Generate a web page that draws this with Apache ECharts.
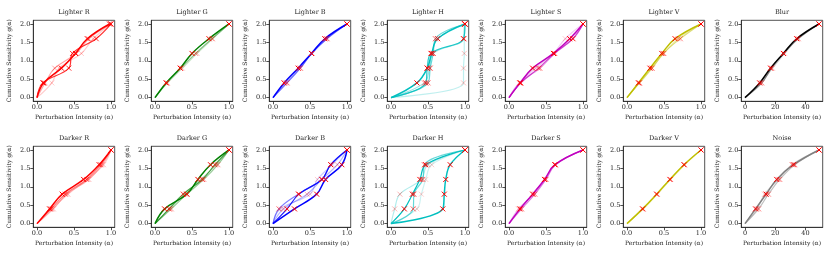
<!DOCTYPE html>
<html><head><meta charset="utf-8">
<script src="https://cdn.jsdelivr.net/npm/echarts@6/dist/echarts.min.js"></script>
<style>html,body{margin:0;padding:0;background:#fff}#c{width:830px;height:260px}</style>
</head><body><div id="c"></div>
<script>
// ---- data ----
const yLevels = [0, 0.4, 0.8, 1.2, 1.6, 2.0];
const unitTicks = [0, 0.5, 1.0];
const wideTicks = [0, 20, 40];
const yTicks = [0, 0.5, 1.0, 1.5, 2.0];
const titlesTop = ['Lighter R','Lighter G','Lighter B','Lighter H','Lighter S','Lighter V','Blur'];
const titlesBottom = ['Darker R','Darker G','Darker B','Darker H','Darker S','Darker V','Noise'];
const colorsTop = ['#ff0000','#008000','#0000ff','#00bfbf','#bf00bf','#bfbf00','#000000'];
const colorsBottom = ['#ff0000','#008000','#0000ff','#00bfbf','#bf00bf','#bfbf00','#808080'];

// x positions (alpha) of each run at the y levels above
const xLighterR = [[0,0.09,0.33,0.52,0.68,0.98],[0,0.08,0.43,0.48,0.80,1.0],[0,0.11,0.24,0.53,0.70,1.0],[0,0.20,0.30,0.60,0.76,1.0]];
const aLighterR = [1,0.8,0.35,0.2];
const xLighterG = [[0,0.15,0.34,0.50,0.73,1.0],[0,0.16,0.35,0.55,0.77,1.0],[0,0.17,0.37,0.57,0.78,1.0]];
const aLighterG = [1,0.45,0.2];
const xLighterB = [[0,0.15,0.34,0.52,0.70,1.0],[0,0.19,0.37,0.52,0.73,1.0],[0,0.17,0.36,0.53,0.72,1.0]];
const aLighterB = [1,0.55,0.3];
const xLighterH = [[0,0.35,0.49,0.55,0.63,1.0],[0,0.47,0.49,0.54,0.98,1.0],[0,0.50,0.53,0.57,0.60,1.0],[0,0.45,0.52,0.57,0.98,0.99],[0,0.98,0.98,0.99,0.99,1.0]];
const aLighterH = [1,0.85,0.6,0.4,0.25];
const xLighterS = [[0,0.15,0.32,0.60,0.82,1.0],[0,0.16,0.40,0.61,0.86,1.0],[0,0.14,0.42,0.62,0.87,1.0],[0,0.15,0.36,0.60,0.76,1.0]];
const aLighterS = [1,0.7,0.35,0.2];
const xLighterV = [[0,0.155,0.31,0.47,0.65,1.0],[0,0.17,0.34,0.49,0.72,1.0],[0,0.16,0.33,0.50,0.69,1.0]];
const aLighterV = [1,0.5,0.3];
const xBlur = [[0,9.7,16.9,25.4,34.2,49],[0,11.2,17.5,25.5,35.3,49],[0,10.5,18.2,26.3,34.8,49]];
const aBlur = [1,0.4,0.2];
const xDarkerR = [[0,0.17,0.34,0.63,0.84,1.0],[0,0.19,0.38,0.67,0.86,1.0],[0,0.22,0.40,0.70,0.88,1.0],[0,0.20,0.42,0.68,0.90,1.0]];
const aDarkerR = [1,0.5,0.3,0.2];
const xDarkerG = [[0,0.13,0.43,0.58,0.75,1.0],[0,0.19,0.38,0.64,0.81,1.0],[0,0.22,0.43,0.66,0.85,1.0],[0,0.20,0.40,0.62,0.83,1.0]];
const aDarkerG = [1,0.7,0.4,0.25];
const xDarkerB = [[0,0.29,0.59,0.71,0.93,1.0],[0,0.19,0.35,0.66,0.78,1.0],[0,0.08,0.34,0.66,0.78,1.0],[0,0.14,0.46,0.66,0.87,1.0],[0,0.10,0.50,0.60,0.80,1.0]];
const aDarkerB = [1,0.9,0.5,0.3,0.2];
const xDarkerH = [[0,0.70,0.72,0.74,0.80,1.0],[0,0.18,0.29,0.39,0.47,1.0],[0,0.30,0.31,0.43,0.45,1.0],[0,0.05,0.12,0.41,0.50,1.0],[0,0.35,0.41,0.47,0.55,1.0]];
const aDarkerH = [1,1,0.6,0.3,0.2];
const xDarkerS = [[0,0.15,0.32,0.48,0.62,1.0],[0,0.17,0.35,0.50,0.63,1.0],[0,0.13,0.33,0.49,0.62,1.0]];
const aDarkerS = [1,0.5,0.3];
const xDarkerV = [[0,0.21,0.40,0.58,0.77,1.0],[0,0.22,0.41,0.59,0.78,1.0]];
const aDarkerV = [1,0.3];
const xNoise = [[0,7,14,21,32,49],[0,9,15.5,23,33,49],[0,8,13,22,31,49]];
const aNoise = [1,0.5,0.3];

const runsX = [xLighterR,xLighterG,xLighterB,xLighterH,xLighterS,xLighterV,xBlur,
               xDarkerR,xDarkerG,xDarkerB,xDarkerH,xDarkerS,xDarkerV,xNoise];
const runsA = [aLighterR,aLighterG,aLighterB,aLighterH,aLighterS,aLighterV,aBlur,
               aDarkerR,aDarkerG,aDarkerB,aDarkerH,aDarkerS,aDarkerV,aNoise];
const allTitles = titlesTop.concat(titlesBottom);
const allColors = colorsTop.concat(colorsBottom);

// ---- build ----
const FONT = 'DejaVu Serif';
const AX = '#262626';
const crossPath = 'path://M0,0L10,10M10,0L0,10';
const grids=[], xAxes=[], yAxes=[], series=[], titles=[];
for (let i = 0; i < 14; i++) {
  const col = i % 7, row = Math.floor(i / 7);
  const left = 33.3 + 118 * col, top = row ? 146.3 : 20.3, W = 81.4, H = 81;
  const wide = (col === 6);
  const xmax = wide ? 49 : 1.0;
  grids.push({left, top, width: W, height: H, show: true, borderColor: AX, borderWidth: 0.8,
              containLabel: false, outerBoundsMode: 'none'});
  titles.push({text: allTitles[i], left: left + W / 2, top: top - 11, textAlign: 'center', padding: 0,
               textStyle: {fontFamily: FONT, fontSize: 6.5, fontWeight: 'normal', color: '#222'}});
  const ticks = wide ? wideTicks : unitTicks;
  xAxes.push({gridIndex: i, type: 'value', min: -0.05 * xmax, max: 1.05 * xmax,
    splitLine: {show: false},
    axisLine: {show: true, onZero: false, lineStyle: {color: AX, width: 0.8}},
    axisTick: {show: true, inside: false, length: 3, customValues: ticks, lineStyle: {color: AX, width: 0.8}},
    axisLabel: {customValues: ticks, margin: 3, fontFamily: FONT, fontSize: 6.5, color: '#222',
      formatter: v => wide ? String(Math.round(v)) : v.toFixed(1)},
    name: 'Perturbation Intensity (α)', nameLocation: 'middle', nameGap: 13,
    nameTextStyle: {fontFamily: FONT, fontSize: 6, color: '#222'}});
  yAxes.push({gridIndex: i, type: 'value', min: -0.1, max: 2.1,
    splitLine: {show: false},
    axisLine: {show: true, onZero: false, lineStyle: {color: AX, width: 0.8}},
    axisTick: {show: true, inside: false, length: 3, customValues: yTicks, lineStyle: {color: AX, width: 0.8}},
    axisLabel: {customValues: yTicks, margin: 3, fontFamily: FONT, fontSize: 6.5, color: '#222',
      formatter: v => v.toFixed(1)},
    name: 'Cumulative Sensitivity g(α)', nameLocation: 'middle', nameGap: 21,
    nameTextStyle: {fontFamily: FONT, fontSize: 6, color: '#222'}});
  const xs = runsX[i], as = runsA[i];
  for (let j = xs.length - 1; j >= 0; j--) {
    const pts = xs[j].map((x, k) => [x, yLevels[k]]);
    series.push({type: 'line', xAxisIndex: i, yAxisIndex: i, data: pts, smooth: 0.4,
      symbol: 'none', showSymbol: false, silent: true,
      lineStyle: {color: allColors[i], width: j === 0 ? 1.5 : 1.2, opacity: as[j]}, z: 2});
    series.push({type: 'scatter', xAxisIndex: i, yAxisIndex: i, data: pts.slice(1), symbol: crossPath,
      symbolSize: 5, silent: true,
      itemStyle: {color: 'transparent', borderColor: '#ff0000', borderWidth: 1, opacity: as[j]}, z: 3});
  }
}
const chart = echarts.init(document.getElementById('c'), null, {renderer: 'canvas'});
chart.setOption({animation: false, backgroundColor: '#fff', title: titles, grid: grids,
  xAxis: xAxes, yAxis: yAxes, series});
</script></body></html>
